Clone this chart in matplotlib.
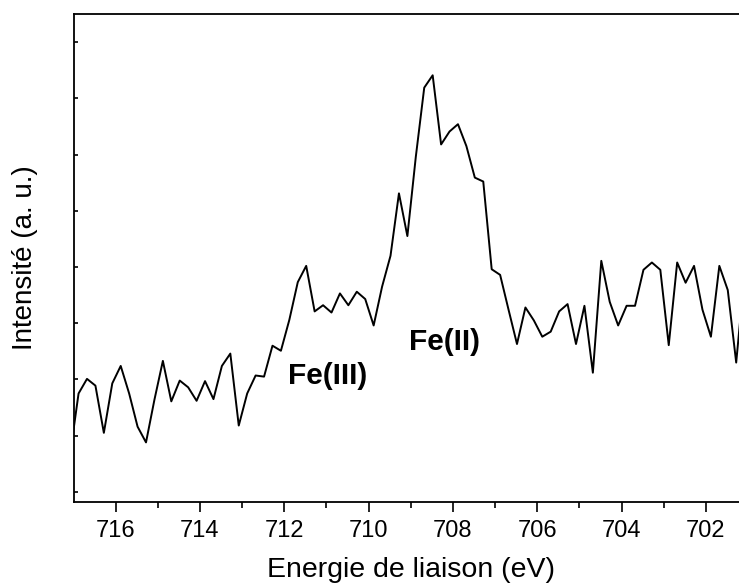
import matplotlib
matplotlib.use("Agg")
import matplotlib.pyplot as plt

plt.rcParams['font.family'] = ['Liberation Sans', 'DejaVu Sans']

# Fe 2p3/2 region, binding energy (eV) in 0.2 eV steps
energy = [717.08 - 0.2 * i for i in range(81)]
intensity = [
    0.67, 1.75, 2.01, 1.89, 1.05, 1.93, 2.24, 1.75, 1.16, 0.88,
    1.64, 2.33, 1.61, 1.98, 1.86, 1.62, 1.97, 1.65, 2.24, 2.46,
    1.18, 1.75, 2.07, 2.05, 2.60, 2.51, 3.06, 3.73, 4.02, 3.21,
    3.32, 3.19, 3.53, 3.32, 3.56, 3.43, 2.96, 3.65, 4.20, 5.31,
    4.55, 5.96, 7.19, 7.41, 6.18, 6.41, 6.54, 6.15, 5.59, 5.52,
    3.96, 3.86, 3.24, 2.63, 3.28, 3.05, 2.76, 2.85, 3.21, 3.34,
    2.63, 3.31, 2.12, 4.11, 3.38, 2.96, 3.31, 3.31, 3.95, 4.08,
    3.95, 2.61, 4.08, 3.72, 4.02, 3.24, 2.76, 4.02, 3.59, 2.30,
    3.90,
]

major_ticks = [716, 714, 712, 710, 708, 706, 704, 702]
minor_ticks = [715, 713, 711, 709, 707, 705, 703, 701]
y_ticks = [0, 1, 2, 3, 4, 5, 6, 7, 8]

peak_labels = ["Fe(III)", "Fe(II)"]
peak_pos = [(711.9, 1.92), (709.04, 2.52)]

W, H = 739, 583
fig = plt.figure(figsize=(W / 100, H / 100), dpi=100)
left, right, top, bottom = 73.5, 748, 14, 502
ax = fig.add_axes([left / W, (H - bottom) / H, (right - left) / W, (bottom - top) / H])

ax.plot(energy, intensity, color='black', lw=1.4)

ax.set_xlim(717, 701)
ax.set_ylim(-0.18, 8.5)

ax.set_xticks(major_ticks)
ax.set_xticks(minor_ticks, minor=True)
ax.set_yticks(y_ticks)
ax.set_yticklabels([])

ax.tick_params(axis='x', which='major', direction='out', length=7, width=1.2,
               labelsize=17, pad=6)
ax.tick_params(axis='x', which='minor', direction='out', length=4, width=1.2)
ax.tick_params(axis='y', which='major', direction='in', length=3, width=1.2)

for side in ['left', 'bottom', 'top', 'right']:
    ax.spines[side].set_linewidth(1.3)

ax.set_xlabel("Energie de liaison (eV)", fontsize=20.5, labelpad=11)
ax.set_ylabel("Intensité (a. u.)", fontsize=20, labelpad=22)

for txt, (x, y) in zip(peak_labels, peak_pos):
    ax.text(x, y, txt, fontsize=21.5, fontweight='bold', ha='left', va='baseline')

fig.savefig("out.png", dpi=100)
